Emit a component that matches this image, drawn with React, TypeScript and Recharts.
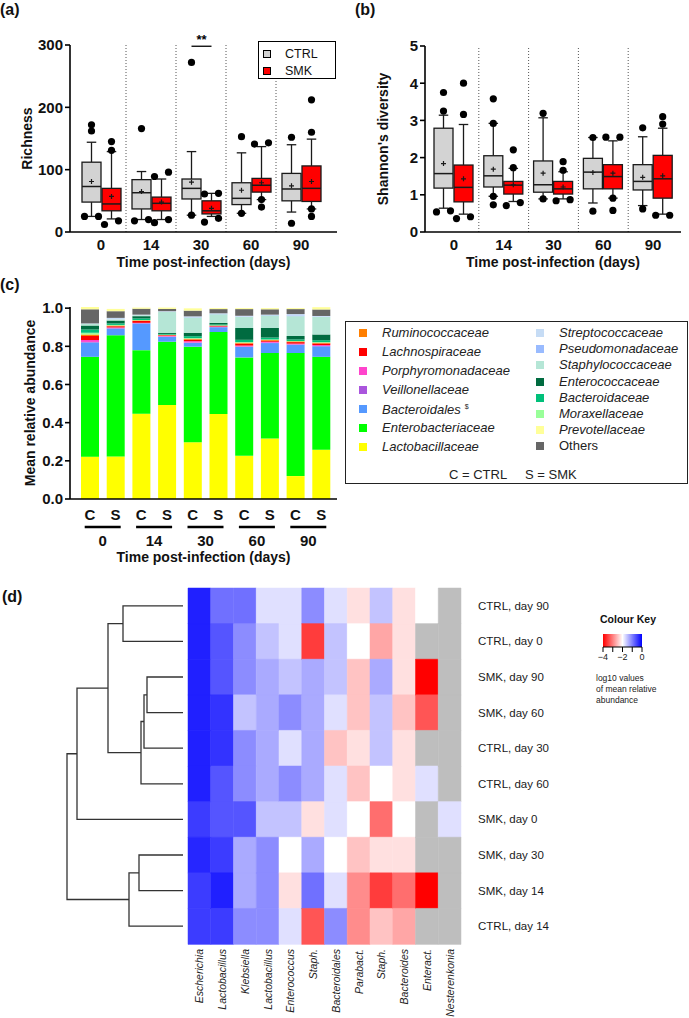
import React from 'react';
import {
  ComposedChart, BarChart, LineChart, Bar, Line, XAxis, YAxis, ReferenceLine, Legend, Cell,
} from 'recharts';

const FONT = '"Liberation Sans", Arial, sans-serif';
const INK = '#111';

// ---------- (a) / (b) box plots ----------
const days = ['0', '14', '30', '60', '90'];

// [whisker low, Q1, median, Q3, whisker high, mean]
const richnessCtrl = [
  [25, 48, 73, 112, 144, 81],
  [20, 37, 63, 84, 97, 65],
  [27, 53, 70, 85, 129, 80],
  [30, 44, 54, 79, 127, 67],
  [32, 50, 69, 94, 140, 74],
];
const richnessCtrlOut = [[172, 162, 25, 25], [166, 18, 20], [272, 27], [153, 30], [152, 14]];
const richnessSmk = [
  [21, 34, 45, 70, 129, 57],
  [20, 34, 46, 56, 85, 48],
  [25, 29, 34, 50, 62, 38],
  [52, 64, 75, 86, 137, 79],
  [37, 49, 70, 106, 149, 81],
];
const richnessSmkOut = [[145, 131, 12, 18], [89, 96, 15, 20], [62, 61, 16, 22], [141, 143, 52, 40], [212, 160, 37, 25]];
const richnessSig = ['', '', '**', '', ''];

const shannonCtrl = [
  [0.64, 1.18, 1.57, 2.79, 3.14, 1.84],
  [0.96, 1.21, 1.51, 2.05, 2.92, 1.69],
  [0.89, 1.07, 1.27, 1.91, 3.07, 1.58],
  [0.78, 1.16, 1.61, 1.98, 2.54, 1.6],
  [0.71, 1.13, 1.36, 1.81, 2.56, 1.47],
];
const shannonCtrlOut = [[3.75, 3.25, 0.54, 0.57], [3.58, 2.92, 0.96, 0.73], [3.19, 0.89], [2.54, 0.56], [2.8, 0.62]];
const shannonSmk = [
  [0.48, 0.81, 1.2, 1.8, 2.89, 1.43],
  [0.82, 1.02, 1.26, 1.36, 1.71, 1.27],
  [0.89, 1.02, 1.16, 1.36, 1.62, 1.21],
  [0.91, 1.16, 1.49, 1.81, 2.45, 1.58],
  [0.48, 0.91, 1.43, 2.06, 2.79, 1.51],
];
const shannonSmkOut = [[4.0, 3.16, 0.36, 0.41], [2.21, 1.73, 0.71, 0.79], [1.89, 1.66, 0.84, 0.87], [2.55, 2.55, 0.91, 0.58], [3.1, 2.9, 0.45, 0.45]];

// ---------- (c) stacked bars ----------
const barGroups = ['C', 'S', 'C', 'S', 'C', 'S', 'C', 'S', 'C', 'S'];
const barDays = ['0', '0', '14', '14', '30', '30', '60', '60', '90', '90'];
const lactobacillaceae = [0.222, 0.223, 0.447, 0.492, 0.298, 0.445, 0.226, 0.317, 0.12, 0.258];
const enterobacteriaceae = [0.523, 0.635, 0.333, 0.332, 0.5, 0.43, 0.516, 0.448, 0.645, 0.487];
const bacteroidales = [0.075, 0.035, 0.14, 0.026, 0.02, 0.025, 0.055, 0.052, 0.043, 0.055];
const veillonellaceae = [0.003, 0.002, 0.001, 0.001, 0.002, 0.001, 0.002, 0.002, 0.002, 0.002];
const porphyromonadaceae = [0.01, 0.004, 0.002, 0.004, 0.007, 0.003, 0.005, 0.005, 0.004, 0.005];
const lachnospiraceae = [0.021, 0.006, 0.01, 0.003, 0.008, 0.003, 0.01, 0.005, 0.008, 0.008];
const ruminococcaceae = [0.008, 0.004, 0.003, 0.002, 0.005, 0.002, 0.005, 0.005, 0.004, 0.004];
const moraxellaceae = [0.009, 0.003, 0.002, 0.001, 0.003, 0.001, 0.003, 0.002, 0.002, 0.003];
const bacteroidaceae = [0.017, 0.008, 0.008, 0.004, 0.01, 0.005, 0.012, 0.01, 0.008, 0.01];
const enterococcaceae = [0.021, 0.015, 0.012, 0.006, 0.018, 0.008, 0.062, 0.05, 0.018, 0.03];
const staphylococcaceae = [0.008, 0.006, 0.005, 0.11, 0.08, 0.045, 0.058, 0.066, 0.104, 0.092];
const pseudomonadaceae = [0, 0, 0, 0.001, 0.002, 0.002, 0.002, 0.002, 0.004, 0.002];
const streptococcaceae = [0.003, 0.008, 0.003, 0.002, 0.004, 0.003, 0.004, 0.002, 0.007, 0.003];
const others = [0.074, 0.035, 0.031, 0.012, 0.03, 0.022, 0.035, 0.028, 0.026, 0.034];
const prevotellaceae = [0.012, 0.012, 0.006, 0.007, 0.012, 0.005, 0.005, 0.006, 0.005, 0.012];

// bottom -> top
const families: [string, number[], string][] = [
  ['Lactobacillaceae', lactobacillaceae, '#ffff00'],
  ['Enterobacteriaceae', enterobacteriaceae, '#00ff00'],
  ['Bacteroidales', bacteroidales, '#5599ff'],
  ['Veillonellaceae', veillonellaceae, '#aa55dd'],
  ['Porphyromonadaceae', porphyromonadaceae, '#ff44cc'],
  ['Lachnospiraceae', lachnospiraceae, '#ff0000'],
  ['Ruminococcaceae', ruminococcaceae, '#ff7f00'],
  ['Moraxellaceae', moraxellaceae, '#99ff99'],
  ['Bacteroidaceae', bacteroidaceae, '#00c07a'],
  ['Enterococcaceae', enterococcaceae, '#006b40'],
  ['Staphylococcaceae', staphylococcaceae, '#b5e6d6'],
  ['Pseudomonadaceae', pseudomonadaceae, '#99bbff'],
  ['Streptococcaceae', streptococcaceae, '#c6dcf5'],
  ['Others', others, '#666666'],
  ['Prevotellaceae', prevotellaceae, '#ffff99'],
];
const legendLeft = ['Ruminococcaceae', 'Lachnospiraceae', 'Porphyromonadaceae', 'Veillonellaceae', 'Bacteroidales', 'Enterobacteriaceae', 'Lactobacillaceae'];
const legendRight = ['Streptococcaceae', 'Pseudomonadaceae', 'Staphylococcaceae', 'Enterococcaceae', 'Bacteroidaceae', 'Moraxellaceae', 'Prevotellaceae', 'Others'];

// ---------- (d) heatmap ----------
const heatRows = ['CTRL, day 90', 'CTRL, day 0', 'SMK, day 90', 'SMK, day 60', 'CTRL, day 30', 'CTRL, day 60', 'SMK, day 0', 'SMK, day 30', 'SMK, day 14', 'CTRL, day 14'];
const heatGenera = ['Escherichia', 'Lactobacillus', 'Klebsiella', 'Lactobacillus', 'Enterococcus', 'Staph.', 'Bacteroidales', 'Parabact.', 'Staph.', 'Bacteroides', 'Enteract.', 'Nesterenkonia'];
// log10 of mean relative abundance, null = not detected
const heatValues: (number | null)[][] = [
  [-0.25, -0.88, -0.88, -1.76, -1.76, -1.1, -1.76, -2.24, -1.53, -2.24, -2.0, null],
  [-0.25, -0.67, -1.1, -1.53, -1.76, -3.53, -1.53, -2.0, -2.7, -2.24, null, null],
  [-0.25, -0.67, -1.1, -1.33, -1.53, -1.33, -1.53, -2.47, -1.33, -2.24, -4.0, null],
  [-0.25, -0.4, -1.53, -1.33, -1.1, -1.33, -1.76, -2.47, -1.53, -2.47, -3.33, null],
  [-0.25, -0.4, -1.1, -1.33, -1.76, -1.33, -2.47, -2.24, -1.53, -2.24, null, null],
  [-0.25, -0.67, -1.1, -1.33, -1.1, -1.33, -1.76, -2.47, -2.0, -2.24, -1.76, null],
  [-0.47, -0.67, -0.67, -1.53, -1.53, -2.24, -1.76, -2.0, -3.14, -2.0, null, -1.76],
  [-0.3, -0.47, -1.33, -1.1, -2.0, -1.33, -2.0, -2.47, -2.24, -2.24, null, null],
  [-0.47, -0.25, -1.33, -1.1, -2.24, -0.88, -1.76, -2.9, -3.53, -3.14, -4.0, null],
  [-0.47, -0.47, -1.1, -1.1, -1.76, -3.33, -1.1, -2.9, -2.47, -2.7, null, null],
];
// dendrogram merges: [node a, node b, height]; leaves are 0..9, merges numbered from 10
const dendroMerges: [number, number, number][] = [
  [0, 1, 60], [2, 3, 36], [11, 4, 39], [12, 5, 42], [10, 13, 75],
  [14, 6, 106], [7, 8, 44], [16, 9, 54], [15, 17, 116],
];
const keyTicks = [-4, -3, -2, -1, 0];
const keyRange = [-4, 0];

type BoxStats = { lo: number; q1: number; med: number; q3: number; hi: number; mean: number; out: number[]; min: number; max: number };

const toBox = (s: number[], out: number[]): BoxStats => ({
  lo: s[0], q1: s[1], med: s[2], q3: s[3], hi: s[4], mean: s[5], out,
  min: Math.min(s[0], ...out), max: Math.max(s[4], ...out),
});

const boxRows = (ctrl: number[][], ctrlOut: number[][], smk: number[][], smkOut: number[][], sig?: string[]) =>
  days.map((day, i) => ({
    day,
    ctrl: toBox(ctrl[i], ctrlOut[i]),
    smk: toBox(smk[i], smkOut[i]),
    sig: sig ? sig[i] : '',
  }));

const richnessRows = boxRows(richnessCtrl, richnessCtrlOut, richnessSmk, richnessSmkOut, richnessSig);
const shannonRows = boxRows(shannonCtrl, shannonCtrlOut, shannonSmk, shannonSmkOut);

const abundanceRows = barGroups.map((g, i) => {
  const row: any = { letter: g, day: barDays[i] };
  families.forEach(([name, vals]) => { row[name] = vals[i]; });
  return row;
});

const heatData = heatRows.map((row) => {
  const r: any = { row };
  heatGenera.forEach((_, j) => { r['c' + j] = 1; });
  return r;
});

const heatColor = (v: number | null) => {
  if (v === null) return '#bebebe';
  const t = Math.max(-4, Math.min(0, v));
  if (t >= -2) {
    const c = Math.round(255 * (1 - (t + 2) / 2));
    return `rgb(${c},${c},255)`;
  }
  const c = Math.round(255 * (1 - (-2 - t) / 2));
  return `rgb(255,${c},${c})`;
};

const dendroLinks = () => {
  const pos = heatRows.map((_, i) => ({ h: 0, y: i }));
  return dendroMerges.map(([a, b, h]) => {
    const A = pos[a];
    const B = pos[b];
    pos.push({ h, y: (A.y + B.y) / 2 });
    return [{ h: A.h, y: A.y }, { h, y: A.y }, { h, y: B.y }, { h: B.h, y: B.y }];
  });
};

// box, whiskers, mean and points drawn from the range bar's own scale
const BoxShape = (props: any) => {
  const { x, y, width, height, payload, group, fill, sigAt } = props;
  const b: BoxStats = payload && payload[group];
  if (!b) return null;
  const top = Math.min(y, y + height);
  const h = Math.abs(height);
  const span = b.max - b.min || 1;
  const py = (v: number) => top + ((b.max - v) / span) * h;
  const cx = x + width / 2;
  const cap = width * 0.25;
  const ys = b.out.map(py).sort((p, q) => p - q);
  const dots: [number, number][] = [];
  for (let i = 0; i < ys.length;) {
    if (i + 1 < ys.length && ys[i + 1] - ys[i] < 5) {
      dots.push([cx + 7, ys[i]], [cx - 7, ys[i + 1]]);
      i += 2;
    } else {
      dots.push([cx, ys[i]]);
      i += 1;
    }
  }
  const sigY = payload.sig && group === 'smk' ? py(sigAt) : null;
  const ctrlCx = x - 1 - width / 2;
  const ink = '#1a1a1a';
  return (
    <g>
      <line x1={cx} x2={cx} y1={py(b.hi)} y2={py(b.q3)} stroke={ink} strokeWidth={1.3} />
      <line x1={cx} x2={cx} y1={py(b.q1)} y2={py(b.lo)} stroke={ink} strokeWidth={1.3} />
      <line x1={cx - cap} x2={cx + cap} y1={py(b.hi)} y2={py(b.hi)} stroke={ink} strokeWidth={1.3} />
      <line x1={cx - cap} x2={cx + cap} y1={py(b.lo)} y2={py(b.lo)} stroke={ink} strokeWidth={1.3} />
      <rect x={x} y={py(b.q3)} width={width} height={py(b.q1) - py(b.q3)} fill={fill} stroke={ink} strokeWidth={1.3} />
      <line x1={x} x2={x + width} y1={py(b.med)} y2={py(b.med)} stroke={ink} strokeWidth={1.5} />
      <path d={`M${cx - 2.5},${py(b.mean)}h5M${cx},${py(b.mean) - 2.5}v5`} stroke={ink} strokeWidth={1.2} />
      {dots.map(([dx, dy], i) => <circle key={i} cx={dx} cy={dy} r={3.6} fill="#000" />)}
      {sigY !== null && (
        <g>
          <line x1={ctrlCx} x2={cx} y1={sigY} y2={sigY} stroke="#000" strokeWidth={1.3} />
          <text x={(ctrlCx + cx) / 2} y={sigY - 2} textAnchor="middle" fontSize={13} fontWeight={700} fill="#000">{payload.sig}</text>
        </g>
      )}
    </g>
  );
};

const BoxLegend = (props: any) => {
  const items = props.payload || [];
  return (
    <div style={{ position: 'relative', width: 78, height: 38, border: '1.5px solid #000', boxSizing: 'border-box', background: '#fff', fontSize: 12.5, color: INK }}>
      {items.map((it: any, i: number) => (
        <div key={it.value} style={{ position: 'absolute', left: 4, top: 5 + i * 17, height: 14, display: 'flex', alignItems: 'center' }}>
          <span style={{ width: 6, height: 6, border: '1.2px solid #000', background: it.color, display: 'inline-block' }} />
          <span style={{ marginLeft: 14, lineHeight: '14px' }}>{it.value}</span>
        </div>
      ))}
    </div>
  );
};

const AbundanceLegend = () => {
  const color = (n: string) => (families.find((f) => f[0] === n) as any)[2];
  const row = (n: string, left: number, cy: number) => (
    <div key={n} style={{ position: 'absolute', left, top: cy - 8, height: 16, display: 'flex', alignItems: 'center', whiteSpace: 'nowrap' }}>
      <span style={{ width: 8, height: 8, background: color(n), display: 'inline-block' }} />
      <span style={{ marginLeft: 15, fontStyle: n === 'Others' ? 'normal' : 'italic', lineHeight: '16px' }}>
        {n}
        {n === 'Bacteroidales' && <sup style={{ fontSize: 7, fontStyle: 'normal', marginLeft: 4 }}>$</sup>}
      </span>
    </div>
  );
  return (
    <div style={{ position: 'relative', width: 343, height: 163, border: '1.5px solid #222', boxSizing: 'border-box', background: '#fff', fontSize: 13, color: '#222' }}>
      {legendLeft.map((n, i) => row(n, 13, 11 + 19 * i))}
      {legendRight.map((n, i) => row(n, 190, 11 + 16.2 * i))}
      <div style={{ position: 'absolute', left: 103, top: 145, fontSize: 13, lineHeight: '16px' }}>C = CTRL</div>
      <div style={{ position: 'absolute', left: 179, top: 145, fontSize: 13, lineHeight: '16px' }}>S = SMK</div>
    </div>
  );
};

const GroupTick = (props: any) => {
  const { x, y, payload } = props;
  return (
    <g>
      <line x1={x - 18} x2={x + 18} y1={y + 4} y2={y + 4} stroke="#000" strokeWidth={2.5} />
      <text x={x} y={y + 23} textAnchor="middle" fontSize={15} fontWeight={700} fill={INK}>{payload.value}</text>
    </g>
  );
};

const GenusTick = (props: any) => {
  const { x, y, payload } = props;
  const name = heatGenera[Math.floor(payload.value)];
  return (
    <text x={x + 4} y={y + 5} transform={`rotate(-90, ${x + 4}, ${y + 5})`} textAnchor="end" fontSize={10.5} fontStyle="italic" fill="#222">{name}</text>
  );
};

const KeyShape = (props: any) => {
  const { x, y, width, height } = props;
  return (
    <g>
      <defs>
        <linearGradient id="ckGrad" x1="0" y1="0" x2="1" y2="0">
          <stop offset="0" stopColor="#ff0000" />
          <stop offset="0.5" stopColor="#ffffff" />
          <stop offset="1" stopColor="#0000ff" />
        </linearGradient>
      </defs>
      <rect x={x} y={y} width={width} height={height} fill="url(#ckGrad)" />
    </g>
  );
};

const axisStroke = { stroke: '#000', strokeWidth: 1.6 };
const tickFont = { fill: INK, fontSize: 15, fontWeight: 700 };
const titleStyle = { fill: INK, fontSize: 14, fontWeight: 700 };

const BoxPanel = (props: { rows: any[]; domain: number[]; ticks: number[]; title: string; left: number; titleOffset: number; padding: { left: number; right: number }; legend?: boolean; width: number; marginTop: number }) => (
  <ComposedChart width={props.width} height={270} data={props.rows} barSize={19} barGap={1}
    margin={{ top: props.marginTop, right: 8, left: props.left, bottom: 0 }}>
    <XAxis dataKey="day" padding={props.padding} interval={0} tickSize={0} tickMargin={7} axisLine={axisStroke}
      tick={tickFont} height={38}
      label={{ value: 'Time post-infection (days)', position: 'insideBottom', offset: 3, ...titleStyle }} />
    <YAxis domain={props.domain} ticks={props.ticks} width={50} interval={0} tickSize={5} tickMargin={2}
      axisLine={axisStroke} tickLine={axisStroke} tick={tickFont}
      label={{ value: props.title, angle: -90, position: 'insideLeft', offset: props.titleOffset, style: { textAnchor: 'middle', ...titleStyle } }} />
    {days.slice(1).map((d) => (
      <ReferenceLine key={d} x={d} position="start" stroke="#555" strokeDasharray="1 2" strokeWidth={1} />
    ))}
    <Bar dataKey={(r: any) => [r.ctrl.min, r.ctrl.max]} name="CTRL" fill="#d3d3d3" isAnimationActive={false}
      shape={(p: any) => <BoxShape {...p} group="ctrl" />} />
    <Bar dataKey={(r: any) => [r.smk.min, r.smk.max]} name="SMK" fill="#ff0000" isAnimationActive={false}
      shape={(p: any) => <BoxShape {...p} group="smk" sigAt={298} />} />
    {props.legend && (
      <Legend content={<BoxLegend />} layout="horizontal" verticalAlign="middle" align="center"
        wrapperStyle={{ left: 258, top: 41, width: 78, height: 38 }} />
    )}
  </ComposedChart>
);

const panelLabel = (text: string, left: number, top: number) => (
  <div style={{ position: 'absolute', left, top, fontSize: 16, fontWeight: 700, lineHeight: '16px', color: INK }}>{text}</div>
);

export default function App() {
  const links = dendroLinks();
  return (
    <div style={{ position: 'absolute', left: 0, top: 0, width: 689, height: 1018, background: '#fff', fontFamily: FONT, overflow: 'hidden' }}>
      {panelLabel('(a)', 0, 2)}
      {panelLabel('(b)', 355, 2)}
      {panelLabel('(c)', 0, 277)}
      {panelLabel('(d)', 2, 589)}

      <div style={{ position: 'absolute', left: 0, top: 0 }}>
        <BoxPanel rows={richnessRows} domain={[0, 300]} ticks={[0, 100, 200, 300]} title="Richness" left={20}
          titleOffset={7} padding={{ left: 6, right: 11 }} legend width={345} marginTop={45} />
      </div>
      <div style={{ position: 'absolute', left: 345, top: 0 }}>
        <BoxPanel rows={shannonRows} domain={[0, 5]} ticks={[0, 1, 2, 3, 4, 5]} title="Shannon's diversity" left={30}
          titleOffset={8} padding={{ left: 4, right: 3 }} width={344} marginTop={46} />
      </div>

      <div style={{ position: 'absolute', left: 0, top: 270 }}>
        <ComposedChart width={689} height={300} data={abundanceRows} barSize={18}
          margin={{ top: 37, right: 352, left: 20, bottom: 0 }}>
          <XAxis dataKey="letter" padding={{ left: 7, right: 3 }} interval={0} tickSize={0} tickMargin={10}
            axisLine={axisStroke} tick={tickFont} height={24} />
          <XAxis xAxisId="grp" dataKey="day" allowDuplicatedCategory={false} padding={{ left: 7, right: 3 }} interval={0}
            tickSize={0} tickMargin={0} axisLine={false} tickLine={false} tick={<GroupTick />} height={47}
            label={{ value: 'Time post-infection (days)', position: 'insideBottom', offset: 8, ...titleStyle }} />
          <YAxis domain={[0, 1]} ticks={[0, 0.2, 0.4, 0.6, 0.8, 1]} tickFormatter={(v: number) => v.toFixed(1)}
            width={50} interval={0} tickSize={5} tickMargin={2} axisLine={axisStroke} tickLine={axisStroke} tick={tickFont}
            label={{ value: 'Mean relative abundance', angle: -90, position: 'insideLeft', offset: 10, style: { textAnchor: 'middle', ...titleStyle } }} />
          {families.map(([name, , color]) => (
            <Bar key={name} dataKey={name} stackId="a" fill={color} isAnimationActive={false} />
          ))}
          <Legend content={<AbundanceLegend />} layout="horizontal" verticalAlign="middle" align="center"
            wrapperStyle={{ left: 345, top: 51, width: 343, height: 163 }} />
        </ComposedChart>
      </div>

      <div style={{ position: 'absolute', left: 63, top: 588 }}>
        <LineChart width={120} height={356} margin={{ top: 0, right: 0, left: 0, bottom: 0 }}>
          <XAxis type="number" dataKey="h" domain={[0, 120]} reversed hide />
          <YAxis type="number" domain={[-0.5, 9.5]} reversed hide />
          {links.map((pts, i) => (
            <Line key={i} data={pts} dataKey="y" type="linear" stroke="#333" strokeWidth={1.3} dot={false}
              isAnimationActive={false} />
          ))}
        </LineChart>
      </div>

      <div style={{ position: 'absolute', left: 180, top: 580 }}>
        <BarChart layout="vertical" width={400} height={438} data={heatData} barCategoryGap={0}
          margin={{ top: 8, right: 9, left: 8, bottom: 0 }}>
          <XAxis type="number" domain={[0, 12]} ticks={heatGenera.map((_, j) => j + 0.5)} interval={0}
            tick={<GenusTick />} tickSize={0} tickMargin={0} axisLine={false} tickLine={false} height={74} />
          <YAxis type="category" dataKey="row" orientation="right" width={110} interval={0} axisLine={false}
            tickLine={false} tickMargin={11} tick={{ fill: '#1a1a1a', fontSize: 11.5 }} />
          {heatGenera.map((g, j) => (
            <Bar key={j} dataKey={'c' + j} stackId="h" isAnimationActive={false}>
              {heatRows.map((r, i) => (
                <Cell key={r} fill={heatColor(heatValues[i][j])} stroke={heatColor(heatValues[i][j])} strokeWidth={0.5} />
              ))}
            </Bar>
          ))}
        </BarChart>
      </div>

      <div style={{ position: 'absolute', left: 598, top: 613, width: 60, textAlign: 'center', fontSize: 10.5, fontWeight: 700, lineHeight: '12px', color: INK }}>Colour Key</div>
      <div style={{ position: 'absolute', left: 580, top: 605 }}>
        <BarChart layout="vertical" width={110} height={67} data={[{ k: 'key', span: keyRange }]} barCategoryGap={0}
          margin={{ top: 29, right: 48, left: 23, bottom: 0 }}>
          <XAxis type="number" domain={keyRange} ticks={keyTicks} interval={0}
            tickFormatter={(v: number) => (v % 2 === 0 ? (v < 0 ? '\u2212' + -v : String(v)) : '')}
            tickSize={5} tickMargin={2} axisLine={{ stroke: '#000' }} tickLine={{ stroke: '#000' }}
            tick={{ fontSize: 9, fill: '#222' }} height={25} />
          <YAxis type="category" dataKey="k" hide />
          <Bar dataKey="span" isAnimationActive={false} shape={(p: any) => <KeyShape {...p} />} />
        </BarChart>
      </div>
      <div style={{ position: 'absolute', left: 596, top: 673, fontSize: 8.5, lineHeight: '11px', color: '#222' }}>
        log10 values<br />of mean relative<br />abundance
      </div>
    </div>
  );
}
